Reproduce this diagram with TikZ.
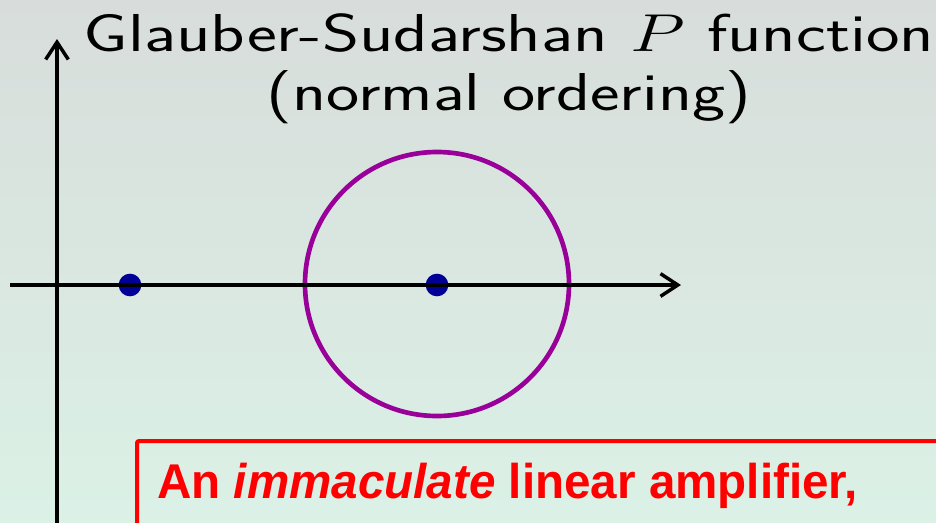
\RequirePackage{fix-cm}
\documentclass[tikz,border=0pt]{standalone}
\usepackage{fontspec}
\newfontfamily\boxfont{Liberation Sans}
\usetikzlibrary{arrows.meta}
\definecolor{bgtop}{RGB}{216,221,219}
\definecolor{bgbot}{RGB}{219,241,230}
\definecolor{dotblue}{RGB}{0,0,150}
\definecolor{ringpurple}{RGB}{153,0,153}
\definecolor{boxred}{RGB}{255,0,0}
\tikzset{
  axis/.style={line width=2.8pt, -{Straight Barb[length=13pt,width=17pt,line width=2.6pt]}},
  pdot/.style={circle, fill=dotblue, inner sep=0pt, minimum size=17pt},
  ring/.style={circle, draw=ringpurple, line width=3.5pt, inner sep=0pt, minimum size=198pt},
  title/.style={font=\sffamily\fontsize{40}{44}\selectfont, align=center, text=black, inner sep=0pt},
  redbox/.style={draw=boxred, line width=3pt, rounded corners=1.5pt},
}
\begin{document}
\begin{tikzpicture}[x=0.75pt,y=-0.75pt]
\useasboundingbox (0,0) rectangle (936,522);
\shade[top color=bgtop, bottom color=bgbot] (0,0) rectangle (936,522);
\clip (0,0) rectangle (936,522);
% title
\node[title, anchor=base] (title) at (509,110) {\scalebox{1.335}[1]{Glauber-Sudarshan $P$ function}\\\scalebox{1.32}[1]{(normal ordering)}};
% points
\node[pdot] (d1) at (130,285) {};
\node[pdot] (d2) at (437,285) {};
\node[ring] (ring) at (437,284) {};
% axes
\coordinate (xs) at (10,285);
\coordinate (xe) at (681,285);
\coordinate (ys) at (57,530);
\coordinate (ye) at (57,39);
\draw[axis] (xs) -- (xe);
\draw[axis] (ys) -- (ye);
% red box
\draw[redbox] (137,441) rectangle (960,560);
\node[anchor=base west, text=boxred, font=\boxfont\bfseries\fontsize{36.6}{40}\selectfont, inner sep=0pt] (txt) at (157,498) {\scalebox{0.975}[1]{An \textit{immaculate} linear amplifier,}};
\end{tikzpicture}
\end{document}
